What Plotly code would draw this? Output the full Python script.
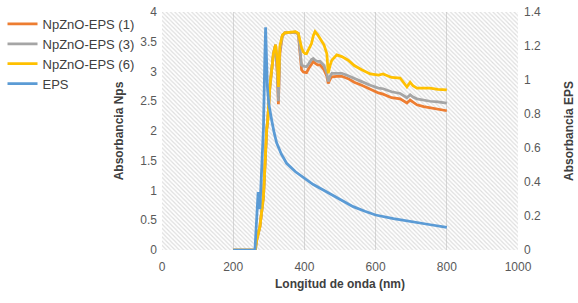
import plotly.graph_objects as go

# ---- data ----
np_x = [200, 262, 266, 275, 285, 289, 294, 297, 303, 313, 319, 324, 327, 331, 338, 345, 360, 375,
        383, 388, 392, 397, 402, 406, 412, 420, 425, 430, 437, 444, 455, 463, 467, 472, 477, 491,
        505, 523, 540, 561, 585, 608, 621, 645, 669, 688, 697, 705, 716, 735, 753, 775, 800]

np_zno_1 = [0, 0, 0.17, 0.39, 0.9, 1.46, 2.02, 2.18, 2.74, 3.3, 3.45, 2.95, 2.45, 3.3, 3.6, 3.65, 3.66, 3.66,
            3.63, 3.3, 3.03, 2.99, 2.98, 2.98, 3.05, 3.14, 3.17, 3.14, 3.11, 3.11, 3.03, 2.92, 2.8, 2.87, 2.91, 2.92,
            2.92, 2.88, 2.82, 2.77, 2.7, 2.64, 2.62, 2.56, 2.54, 2.47, 2.52, 2.48, 2.44, 2.41, 2.39, 2.37, 2.34]

np_zno_3 = [0, 0, 0.17, 0.39, 0.9, 1.46, 2.02, 2.18, 2.74, 3.3, 3.45, 3.0, 2.5, 3.35, 3.6, 3.65, 3.66, 3.66,
            3.64, 3.35, 3.11, 3.09, 3.08, 3.08, 3.13, 3.2, 3.22, 3.19, 3.17, 3.17, 3.1, 2.97, 2.83, 2.92, 2.97, 2.97,
            2.97, 2.93, 2.88, 2.83, 2.77, 2.72, 2.71, 2.66, 2.63, 2.56, 2.61, 2.57, 2.54, 2.52, 2.5, 2.49, 2.47]

np_zno_6 = [0, 0, 0.17, 0.39, 0.9, 1.46, 2.02, 2.18, 2.74, 3.3, 3.45, 3.19, 2.74, 3.42, 3.61, 3.65, 3.66, 3.67,
            3.64, 3.5, 3.4, 3.33, 3.3, 3.3, 3.38, 3.47, 3.6, 3.67, 3.62, 3.56, 3.45, 3.3, 2.97, 3.1, 3.19, 3.28,
            3.25, 3.19, 3.1, 3.03, 2.96, 2.94, 2.96, 2.9, 2.89, 2.74, 2.82, 2.76, 2.72, 2.72, 2.72, 2.7, 2.69]

eps_x = [200, 261, 265, 270, 275, 280, 285, 289, 291, 294, 296, 300, 303, 308, 315, 322, 335, 350, 375,
         400, 425, 453, 500, 537, 570, 600, 650, 697, 750, 800]
eps_y = [0, 0, 0.15, 0.34, 0.24, 0.45, 0.72, 1.15, 1.31, 1.1, 0.96, 0.86, 0.82, 0.765, 0.69, 0.63, 0.565,
         0.51, 0.46, 0.42, 0.385, 0.353, 0.30, 0.255, 0.228, 0.206, 0.185, 0.167, 0.15, 0.133]

x_range = [0, 1000]
y_range = [0, 4]
y2_range = [0, 1.4]

series = [
    ("NpZnO-EPS (1)", np_zno_1, "#ED7D31"),
    ("NpZnO-EPS (3)", np_zno_3, "#A5A5A5"),
    ("NpZnO-EPS (6)", np_zno_6, "#FFC000"),
]

fig = go.Figure()

# hatched plot-area background
fig.add_trace(go.Scatter(
    x=[x_range[0], x_range[1], x_range[1], x_range[0], x_range[0]],
    y=[y_range[0], y_range[0], y_range[1], y_range[1], y_range[0]],
    fill="toself", mode="lines", line=dict(width=0),
    fillcolor="rgba(0,0,0,0)",
    fillpattern=dict(shape="\\", fgcolor="#bdbdbd", bgcolor="rgba(0,0,0,0)", size=3, solidity=0.4),
    showlegend=False, hoverinfo="skip"))

for name, ys, col in series:
    fig.add_trace(go.Scatter(x=np_x, y=ys, name=name, mode="lines",
                             line=dict(color=col, width=2.75)))

fig.add_trace(go.Scatter(x=eps_x, y=eps_y, name="EPS", mode="lines", yaxis="y2",
                         line=dict(color="#5B9BD5", width=2.75)))

tick_font = dict(family="Liberation Sans, Arial", size=12, color="#595959")
title_font = dict(family="Liberation Sans, Arial", size=12, color="#404040")

fig.update_layout(
    width=578, height=303,
    margin=dict(l=162, r=60, t=12, b=53, autoexpand=False),
    paper_bgcolor="white", plot_bgcolor="white",
    font=dict(family="Liberation Sans, Arial", color="#404040"),
    showlegend=True,
    legend=dict(x=-0.448, y=1.013, xanchor="left", yanchor="top",
                font=dict(family="Liberation Sans, Arial", size=13, color="#404040"),
                bgcolor="rgba(0,0,0,0)", itemwidth=30, tracegroupgap=0),
    xaxis=dict(range=x_range, dtick=200, tick0=0, showgrid=True, gridcolor="#d9d9d9", gridwidth=1,
               zeroline=False, showline=False, ticks="", tickfont=tick_font, automargin=False,
               ticklabelstandoff=8,
               title=dict(text="<b>Longitud de onda (nm)</b>", font=title_font, standoff=6)),
    yaxis=dict(range=y_range, dtick=0.5, tick0=0, showgrid=False, zeroline=False, showline=False,
               ticks="", tickfont=tick_font, automargin=False, ticklabelstandoff=4,
               title=dict(text="<b>Absorbancia Nps</b>", font=title_font, standoff=14)),
    yaxis2=dict(range=y2_range, dtick=0.2, tick0=0, overlaying="y", side="right", showgrid=False,
                zeroline=False, showline=False, ticks="", tickfont=tick_font, automargin=False,
                ticklabelstandoff=5,
                title=dict(text="<b>Absorbancia EPS</b>", font=title_font, standoff=24)),
)

fig.write_html("out.html", config={"displayModeBar": False},
               post_script="document.body.style.margin='0';document.body.style.padding='0';")
